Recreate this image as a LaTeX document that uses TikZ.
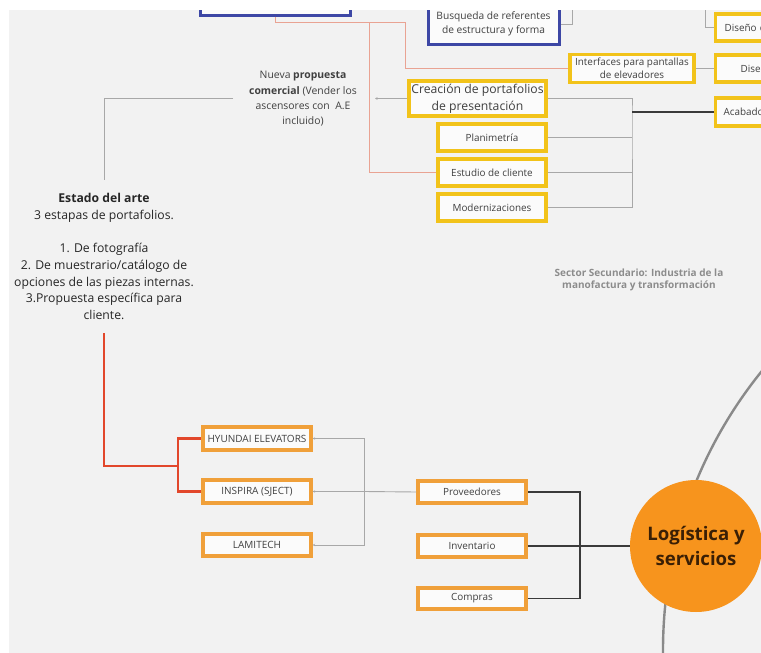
\documentclass[tikz,border=0pt]{standalone}
\usepackage{fontspec}
\setmainfont{Open Sans}
\usetikzlibrary{arrows.meta,calc}
\definecolor{bg}{HTML}{F2F2F2}
\definecolor{ybord}{HTML}{F2C31A}
\definecolor{obord}{HTML}{F0A03A}
\definecolor{bbord}{HTML}{3D47A5}
\definecolor{pinkln}{HTML}{E9A393}
\definecolor{grayln}{HTML}{A8A8A8}
\definecolor{darkln}{HTML}{3A3A3A}
\definecolor{redln}{HTML}{E2472B}
\definecolor{txt}{HTML}{404040}
\definecolor{hub}{HTML}{F7941D}
\definecolor{hubtxt}{HTML}{3A1F05}
\definecolor{sectortxt}{HTML}{8C8C8C}
\definecolor{arcln}{HTML}{8A8A8A}
\begin{document}
\begin{tikzpicture}[x=1pt,y=-1pt,
  boxbase/.style={draw, rectangle, fill=white!70!bg, text=txt, align=center,
    inner sep=0pt, font=\fontsize{9.9}{13}\selectfont},
  ybox/.style={boxbase, draw=ybord, line width=3.1pt},
  obox/.style={boxbase, draw=obord, line width=3.1pt},
  bluebox/.style={boxbase, draw=bbord, line width=3pt},
  gline/.style={draw=grayln, line width=0.9pt},
  dline/.style={draw=darkln, line width=1.1pt},
  pline/.style={draw=pinkln, line width=1pt},
  rline/.style={draw=redln, line width=2.8pt},
  smalltip/.style={-{Stealth[length=2.5pt,width=2.5pt]}},
]
\useasboundingbox (0,0) rectangle (761,653);
\fill[white] (0,0) rectangle (761,653);
\fill[bg] (9,10) rectangle (761,653);

\begin{scope}
\clip (9,10) rectangle (761,653);

% large ring passing behind the hub
\draw[draw=arcln, line width=2.4pt] (1106,650) circle[radius=443pt];

% ---- top area ----
\node[bluebox, minimum width=150pt, minimum height=40pt] (topblue) at (275,-5) {};
\node[bluebox, minimum width=131pt, minimum height=40pt,
  font=\fontsize{10.2}{14}\selectfont] (busq) at (493.5,24) {Busqueda de referentes\\de estructura y forma};

\node[ybox, anchor=west, minimum height=27pt, text width=100pt, inner xsep=9pt,
  align=left] (dis1) at (714,27.5) {Diseño de};
\node[ybox, minimum width=124pt, minimum height=28pt] (inter) at (632,68.5)
  {Interfaces para pantallas\\de elevadores};
\node[ybox, anchor=west, minimum height=27pt, text width=80pt, inner xsep=25pt,
  align=left] (dis2) at (714,68.5) {Diseño};
\node[ybox, anchor=west, minimum height=28pt, text width=100pt, inner xsep=8pt,
  align=left] (acab) at (714,112) {Acabados};

\node[ybox, minimum width=137pt, minimum height=35pt,
  font=\fontsize{12.2}{17}\selectfont] (crea) at (477.5,98.5)
  {Creación de portafolios\\de presentación};
\node[ybox, minimum width=108pt, minimum height=27pt] (plan) at (492,137.5) {Planimetría};
\node[ybox, minimum width=108pt, minimum height=27pt] (estu) at (492,172.5) {Estudio de cliente};
\node[ybox, minimum width=108pt, minimum height=27pt] (mode) at (492,207.5) {Modernizaciones};

\node[font=\fontsize{10.4}{15.3}\selectfont, text=txt, align=center] (nueva) at (303,99)
  {Nueva \textbf{propuesta}\\\textbf{comercial} (Vender los\\ascensores con\ \ A.E\\incluido)};

\node[font=\fontsize{12.2}{16.7}\selectfont, text=black!85, align=center] (estado) at (104,256.5)
  {\textbf{Estado del arte}\\3 estapas de portafolios.\\[16.7pt]1. De fotografía\\
   2. De muestrario/catálogo de\\opciones de las piezas internas.\\
   3.Propuesta específica para\\cliente.};

\node[font=\bfseries\fontsize{10}{12.5}\selectfont, text=sectortxt, align=center] (sector)
  at (639,280) {Sector Secundario: Industria de la\\manofactura y transformación};

% ---- bottom area ----
\node[obox, minimum width=108pt, minimum height=23pt, font=\fontsize{10}{12}\selectfont]
  (hyu) at (257,438.5) {HYUNDAI ELEVATORS};
\node[obox, minimum width=108pt, minimum height=23pt, font=\fontsize{10}{12}\selectfont]
  (insp) at (257,491.5) {INSPIRA (SJECT)};
\node[obox, minimum width=108pt, minimum height=22pt, font=\fontsize{10}{12}\selectfont]
  (lami) at (257,545) {LAMITECH};

\node[obox, minimum width=108pt, minimum height=22pt] (prov) at (472,492) {Proveedores};
\node[obox, minimum width=108pt, minimum height=22pt] (inve) at (472,546) {Inventario};
\node[obox, minimum width=108pt, minimum height=21pt] (comp) at (472,598.5) {Compras};

\node[circle, fill=hub, minimum size=132pt, inner sep=0pt, align=center, text=hubtxt,
  font=\bfseries\fontsize{18.6}{25}\selectfont] (logi) at (696,546) {Logística y\\servicios};

% ---- junction points ----
\coordinate (pk1) at (405,22);
\coordinate (pk2) at (369,22);
\coordinate (g1) at (572,0);
\coordinate (g2) at (705,0);
\coordinate (j1) at (632,112);
\coordinate (np) at (375,98.5);
\coordinate (nw) at (233,98);
\coordinate (e1) at (104,180);
\coordinate (e2) at (104,333);
\coordinate (r1) at (178,466);
\coordinate (b1) at (364,491.5);
\coordinate (b2) at (580,546);

% ---- connectors ----
\draw[pline] (topblue.south) |- (pk1) |- (inter.west);
\draw[pline] (pk2) |- (estu.west);

\draw[gline] (g1) |- (busq.east);
\draw[gline] (g2) |- (dis1.west);
\draw[gline] (inter.east) -- (dis2.west);

\draw[gline] (crea.east) -| (j1) |- (mode.east);
\draw[gline] (plan.east) -- (plan.east -| j1);
\draw[gline] (estu.east) -- (estu.east -| j1);
\draw[dline] (j1) -- (acab.west);

\draw[gline, smalltip] (crea.west) -- (np);
\draw[gline] (nw) -| (e1);

\draw[rline] (e2) |- (r1);
\draw[rline] (r1) |- (hyu.west);
\draw[rline] (r1) |- (insp.west);

\draw[gline, smalltip] (b1) |- (hyu.east);
\draw[gline, smalltip] (b1) -- (insp.east);
\draw[gline, smalltip] (b1) |- (lami.east);
\draw[gline] (b1) -- (prov.west);

\draw[dline] (b2) |- (prov.east);
\draw[dline] (b2) -- (inve.east);
\draw[dline] (b2) |- (comp.east);
\draw[dline] (b2) -- (logi.west);
\end{scope}
\end{tikzpicture}
\end{document}
